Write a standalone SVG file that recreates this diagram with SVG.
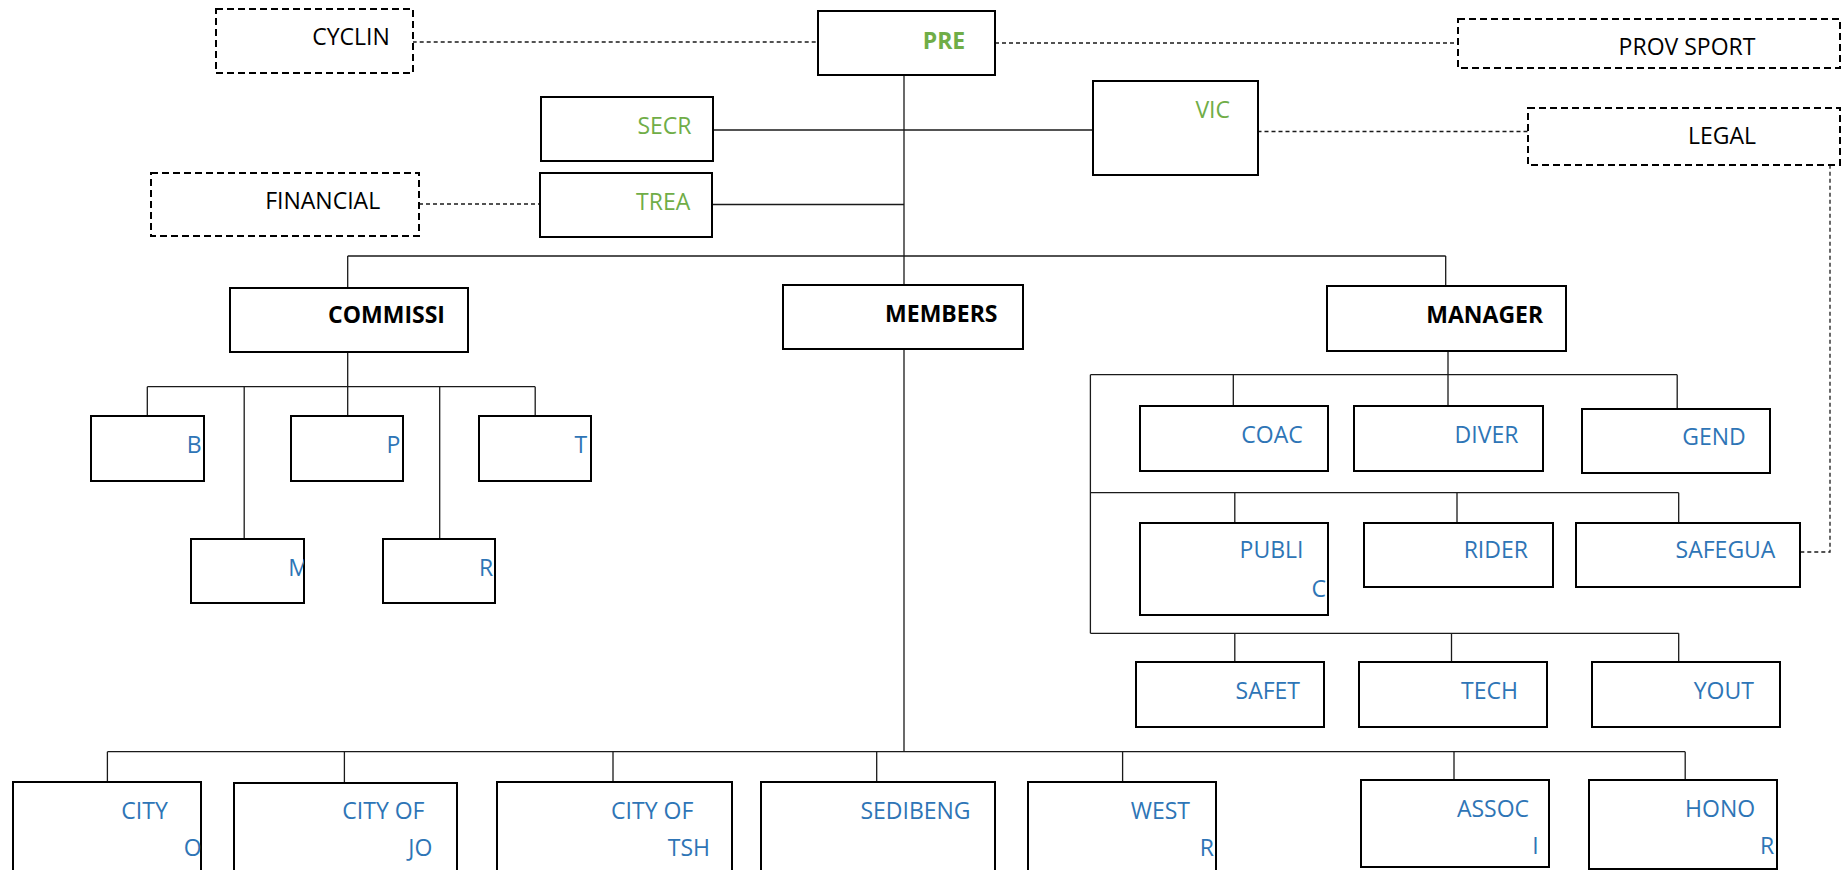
<svg xmlns="http://www.w3.org/2000/svg" width="1842" height="870" viewBox="0 0 1842 870">
<style>
.box{fill:#fff;stroke:#000;stroke-width:2}
.dbox{fill:#fff;stroke:#000;stroke-width:2;stroke-dasharray:7 4}
.conn{fill:none;stroke:#1a1a1a;stroke-width:1.3}
.dot{fill:none;stroke:#1a1a1a;stroke-width:1.3;stroke-dasharray:4 3}
text{font-family:"Open Sans","Noto Sans","Liberation Sans",sans-serif;font-size:23px;text-anchor:middle}
.k{fill:#000}
.kb{fill:#000;font-weight:bold}
.g{fill:#70AD47}
.gb{fill:#70AD47;font-weight:bold}
.b{fill:#2E75B6}
</style>
<defs>
<clipPath id="clipM"><rect x="191" y="539" width="113" height="64"/></clipPath>
</defs>
<rect width="1842" height="870" fill="#fff"/>
<g id="connectors">
<path class="conn" d="M904 75 V751.7"/>
<path class="conn" d="M713 130 H1093"/>
<path class="conn" d="M712 204.5 H904"/>
<path class="conn" d="M347.7 256 H1445.7 M347.7 256 V288 M1445.7 256 V286"/>
<path class="conn" d="M347.7 352 V386.7 M147.3 386.7 H535.2 M147.3 386.7 V416 M244.2 386.7 V539 M347.7 386.7 V416 M439.7 386.7 V539 M535.2 386.7 V416"/>
<path class="conn" d="M1448 350.7 V406 M1090.4 374.7 H1677.2 M1090.4 374.7 V633.3 M1233.3 374.7 V406 M1677.2 374.7 V409"/>
<path class="conn" d="M1090.4 492.7 H1678.7 M1234.8 492.7 V523 M1457 492.7 V523 M1678.7 492.7 V523"/>
<path class="conn" d="M1090.4 633.3 H1678.7 M1234.8 633.3 V662 M1451.5 633.3 V662 M1678.7 633.3 V662"/>
<path class="conn" d="M107.4 751.7 H1685.2 M107.4 751.7 V782 M344.4 751.7 V783 M613 751.7 V782 M876.7 751.7 V782 M1122.6 751.7 V782 M1454 751.7 V780 M1685.2 751.7 V780"/>
<path class="dot" d="M412.7 42 H818"/>
<path class="dot" d="M995 43 H1458"/>
<path class="dot" d="M1257.5 131.5 H1528"/>
<path class="dot" d="M419 204 H540"/>
<path class="dot" d="M1830 164.7 V552 H1800.4"/>
</g>
<g id="n-cyclin"><rect class="dbox" x="216" y="9" width="197" height="64"/><text class="k" x="351" y="45">CYCLIN</text></g>
<g id="n-pre"><rect class="box" x="818" y="11" width="177" height="64"/><text class="gb" x="944" y="49">PRE</text></g>
<g id="n-provsport"><rect class="dbox" x="1458" y="19" width="382" height="49"/><text class="k" x="1687" y="55">PROV SPORT</text></g>
<g id="n-secr"><rect class="box" x="541" y="97" width="172" height="64"/><text class="g" x="664.5" y="134">SECR</text></g>
<g id="n-vic"><rect class="box" x="1093" y="81" width="165" height="94"/><text class="g" x="1212.7" y="118">VIC</text></g>
<g id="n-legal"><rect class="dbox" x="1528" y="108" width="312" height="57"/><text class="k" x="1722" y="144">LEGAL</text></g>
<g id="n-financial"><rect class="dbox" x="151" y="173" width="268" height="63"/><text class="k" x="322.7" y="209">FINANCIAL</text></g>
<g id="n-trea"><rect class="box" x="540" y="173" width="172" height="64"/><text class="g" x="663.2" y="210">TREA</text></g>
<g id="n-commissi"><rect class="box" x="230" y="288" width="238" height="64"/><text class="kb" x="386.5" y="323">COMMISSI</text></g>
<g id="n-members"><rect class="box" x="783" y="285" width="240" height="64"/><text class="kb" x="941.3" y="322">MEMBERS</text></g>
<g id="n-manager"><rect class="box" x="1327" y="286" width="239" height="65"/><text class="kb" x="1484.7" y="323">MANAGER</text></g>
<g id="n-b"><rect class="box" x="91" y="416" width="113" height="65"/><text class="b" x="194.2" y="453">B</text></g>
<g id="n-p"><rect class="box" x="291" y="416" width="112" height="65"/><text class="b" x="393.5" y="453">P</text></g>
<g id="n-t"><rect class="box" x="479" y="416" width="112" height="65"/><text class="b" x="580.8" y="453">T</text></g>
<g id="n-m"><rect class="box" x="191" y="539" width="113" height="64"/><text class="b" x="298.5" y="576" clip-path="url(#clipM)">M</text></g>
<g id="n-r"><rect class="box" x="383" y="539" width="112" height="64"/><text class="b" x="486.1" y="576">R</text></g>
<g id="n-coac"><rect class="box" x="1140" y="406" width="188" height="65"/><text class="b" x="1272" y="443">COAC</text></g>
<g id="n-diver"><rect class="box" x="1354" y="406" width="189" height="65"/><text class="b" x="1486.5" y="443">DIVER</text></g>
<g id="n-gend"><rect class="box" x="1582" y="409" width="188" height="64"/><text class="b" x="1714" y="445">GEND</text></g>
<g id="n-publi"><rect class="box" x="1140" y="523" width="188" height="92"/><text class="b" x="1271.5" y="558">PUBLI</text><text class="b" x="1318.8" y="597">C</text></g>
<g id="n-rider"><rect class="box" x="1364" y="523" width="189" height="64"/><text class="b" x="1495.8" y="558">RIDER</text></g>
<g id="n-safegua"><rect class="box" x="1576" y="523" width="224" height="64"/><text class="b" x="1725.5" y="558">SAFEGUA</text></g>
<g id="n-safet"><rect class="box" x="1136" y="662" width="188" height="65"/><text class="b" x="1267.8" y="699">SAFET</text></g>
<g id="n-tech"><rect class="box" x="1359" y="662" width="188" height="65"/><text class="b" x="1489.5" y="699">TECH</text></g>
<g id="n-yout"><rect class="box" x="1592" y="662" width="188" height="65"/><text class="b" x="1723.8" y="699">YOUT</text></g>
<g id="n-cityo"><rect class="box" x="13" y="782" width="188" height="100"/><text class="b" x="144.6" y="819">CITY</text><text class="b" x="192.7" y="856">O</text></g>
<g id="n-cityjo"><rect class="box" x="234" y="783" width="223" height="100"/><text class="b" x="383.4" y="819">CITY OF</text><text class="b" x="420.4" y="856">JO</text></g>
<g id="n-citytsh"><rect class="box" x="497" y="782" width="235" height="100"/><text class="b" x="652.2" y="819">CITY OF</text><text class="b" x="688.9" y="856">TSH</text></g>
<g id="n-sedibeng"><rect class="box" x="761" y="782" width="234" height="100"/><text class="b" x="915.5" y="819">SEDIBENG</text></g>
<g id="n-west"><rect class="box" x="1028" y="782" width="188" height="100"/><text class="b" x="1160.3" y="819">WEST</text><text class="b" x="1206.8" y="856">R</text></g>
<g id="n-assoc"><rect class="box" x="1361" y="780" width="188" height="87"/><text class="b" x="1493" y="817">ASSOC</text><text class="b" x="1535.5" y="854">I</text></g>
<g id="n-hono"><rect class="box" x="1589" y="780" width="188" height="89"/><text class="b" x="1720.1" y="817">HONO</text><text class="b" x="1767" y="854">R</text></g>
</svg>
